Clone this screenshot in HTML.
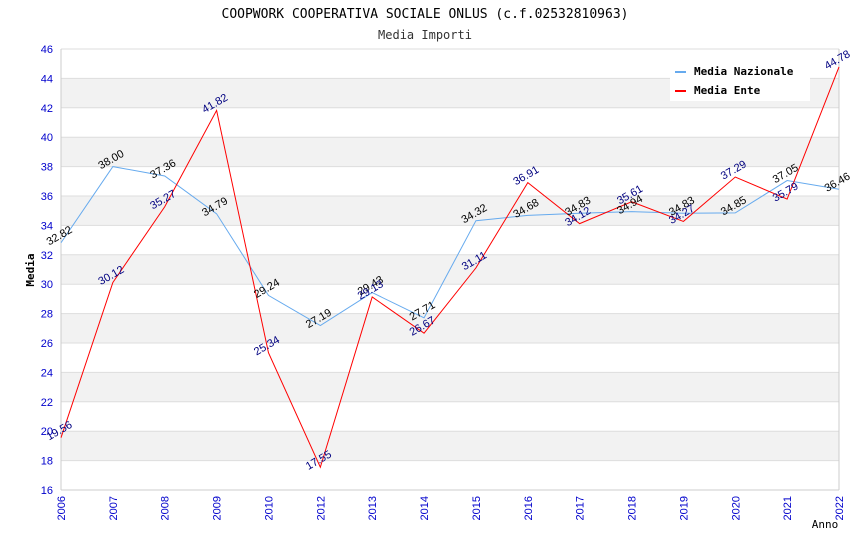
<!DOCTYPE html>
<html><head><meta charset="utf-8"><style>
body{margin:0;background:#fff;}
svg text{font-family:"DejaVu Sans Mono","Liberation Mono",monospace;}
svg text.sans{font-family:"Liberation Sans",Arial,sans-serif;}
</style></head><body>
<svg id="chart" width="850" height="550" xmlns="http://www.w3.org/2000/svg">
<text x="425" y="18" text-anchor="middle" font-size="13" fill="#000">COOPWORK COOPERATIVA SOCIALE ONLUS (c.f.02532810963)</text>
<text x="425" y="39" text-anchor="middle" font-size="12" fill="#333">Media Importi</text>
<g id="bands"></g><g id="grid"></g><g id="axes"></g><g id="series"></g><g id="labels"></g>
<text x="34" y="270" text-anchor="middle" font-size="11" font-weight="bold" transform="rotate(-90 34 270)">Media</text>
<text x="825" y="528" text-anchor="middle" font-size="11">Anno</text>
<g>
<rect x="670" y="54" width="140" height="47" fill="#fff"/>
<line x1="675" y1="72" x2="686" y2="72" stroke="#66aaee" stroke-width="2"/>
<text x="694" y="75" font-size="11" font-weight="bold">Media Nazionale</text>
<line x1="675" y1="91" x2="686" y2="91" stroke="#ff0000" stroke-width="2"/>
<text x="694" y="94" font-size="11" font-weight="bold">Media Ente</text>
</g>
</svg>
<script>
const years=["2006","2007","2008","2009","2010","2012","2013","2014","2015","2016","2017","2018","2019","2020","2021","2022"];
const nazionale=[32.82,38.00,37.36,34.79,29.24,27.19,29.43,27.71,34.32,34.68,34.83,34.94,34.83,34.85,37.05,36.46];
const ente=[19.56,30.12,35.27,41.82,25.34,17.55,29.13,26.67,31.11,36.91,34.12,35.61,34.27,37.29,35.79,44.78];
const yTicks=[16,18,20,22,24,26,28,30,32,34,36,38,40,42,44,46];
const NS="http://www.w3.org/2000/svg";
const X0=61,X1=839,Y0=490,Y1=49,VMIN=16,VMAX=46;
const xs=i=>X0+(X1-X0)*i/(years.length-1);
const ys=v=>Y0-(v-VMIN)/(VMAX-VMIN)*(Y0-Y1);
function mk(tag,attrs,parent){const e=document.createElementNS(NS,tag);for(const k in attrs)e.setAttribute(k,attrs[k]);document.getElementById(parent).appendChild(e);return e;}
for(let i=0;i<yTicks.length-1;i++){
  if(i%2===1){const b=mk('rect',{x:X0,y:ys(yTicks[i+1]),width:X1-X0,height:ys(yTicks[i])-ys(yTicks[i+1]),fill:'#f2f2f2'},'bands');
  
  }
}
yTicks.forEach(t=>{
  const l=mk('line',{x1:X0,x2:X1,y1:ys(t),y2:ys(t),stroke:'#dddddd','stroke-width':1},'grid');
  
  
  const tx=mk('text',{x:X0-8,y:ys(t)+4,'text-anchor':'end','font-size':11,fill:'#0000cc','class':'sans'},'axes');
  tx.textContent=t;
  
  
});
mk('line',{x1:X0,x2:X0,y1:Y1,y2:Y0,stroke:'#ccc'},'axes');
mk('line',{x1:X1,x2:X1,y1:Y1,y2:Y0,stroke:'#ccc'},'axes');
mk('line',{x1:X0,x2:X1,y1:Y0,y2:Y0,stroke:'#ccc'},'axes');
years.forEach((y,i)=>{
  const x=xs(i);
  const t=mk('text',{x:x+4,y:Y0+6,'text-anchor':'end','font-size':11,fill:'#0000cc','class':'sans',transform:`rotate(-90 ${x+4} ${Y0+6})`},'axes');
  t.textContent=y;
  
  
});
function series(vals,color,name,lblColor){
  const p=mk('polyline',{points:vals.map((v,i)=>xs(i)+','+ys(v)).join(' '),fill:'none',stroke:color,'stroke-width':1},'series');
  
  
  vals.forEach((v,i)=>{
    const x=xs(i),y=ys(v);
    const t=mk('text',{x:x,y:y-4,'text-anchor':'middle','font-size':11,fill:lblColor,'class':'sans',transform:`rotate(-30 ${x} ${y-4})`},'labels');
    t.textContent=v.toFixed(2);
    
    
  });
}
series(nazionale,'#66aaee','line-nazionale','#000');
series(ente,'#ff0000','line-ente','#000080');
</script>
</body></html>
